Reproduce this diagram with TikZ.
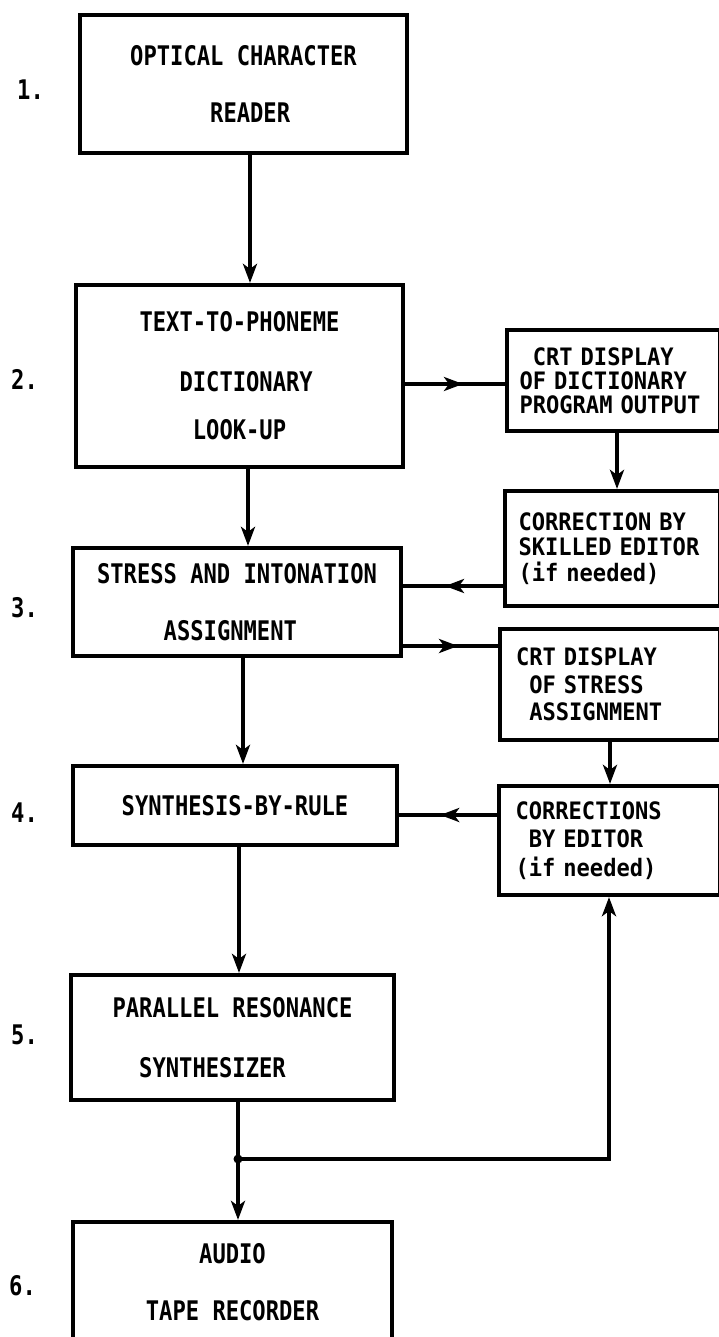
\documentclass[tikz,border=0pt]{standalone}
\usepackage{fontspec}
\newfontfamily\lblA[FakeStretch=0.82]{DejaVu Sans Mono}
\newfontfamily\lblB[FakeStretch=0.92]{DejaVu Sans Mono}
\newcommand\monosp{\spaceskip=\fontcharwd\font`X\relax}
\usetikzlibrary{arrows.meta,decorations.markings}
\begin{document}
\begin{tikzpicture}[x=1pt,y=-1pt,
  mainbox/.style={draw, line width=4.2pt, align=left, inner sep=0pt,
    font=\lblA\bfseries\fontsize{27}{28}\selectfont\monosp},
  sidebox/.style={draw, line width=4.2pt, align=left, text width=188pt, inner sep=0pt,
    font=\lblB\bfseries\fontsize{24}{#1}\selectfont\monosp},
  numlabel/.style={anchor=west, inner sep=0pt, font=\lblA\bfseries\fontsize{27}{28}\selectfont},
  conn/.style={line width=3.6pt},
  arr/.style={conn, -{Stealth[length=19pt,width=14pt,inset=5pt]}},
  midarr/.style={conn, postaction={decorate}, decoration={markings,
    mark=at position 0.58 with {\arrow{Stealth[length=19pt,width=14pt,inset=5pt]}}}},
  junction/.style={circle, fill, inner sep=0pt, minimum size=9pt}
]
\useasboundingbox (0,0) rectangle (719,1337);
\clip (0,0) rectangle (719,1337);

% main column
\node[mainbox, minimum width=327pt, minimum height=138pt] (b1) at (243.5,84)
  {OPTICAL CHARACTER\\[29pt]\hphantom{XXXXXX}READER};
\node[mainbox, minimum width=327pt, minimum height=182pt] (b2) at (239.5,376)
  {TEXT-TO-PHONEME\\[32pt]\hphantom{XXX}DICTIONARY\\[20pt]\hphantom{XXXX}LOOK-UP};
\node[mainbox, minimum width=328pt, minimum height=108pt] (b3) at (237,602)
  {STRESS AND INTONATION\\[29pt]\hphantom{XXXXX}ASSIGNMENT};
\node[mainbox, minimum width=324pt, minimum height=79pt] (b4) at (235,805.5)
  {SYNTHESIS-BY-RULE};
\node[mainbox, minimum width=323pt, minimum height=125pt] (b5) at (232.5,1037.5)
  {PARALLEL RESONANCE\\[32pt]\hphantom{XX}SYNTHESIZER};
\node[mainbox, minimum width=319pt, minimum height=121pt] (b6) at (232.5,1282.5)
  {\hphantom{XXXX}AUDIO\\[29pt]TAPE RECORDER};

% side column
\node[sidebox=24, minimum width=213pt, minimum height=101pt] (c1) at (613.5,380.5)
  {\hphantom{X}CRT DISPLAY\\OF DICTIONARY\\PROGRAM OUTPUT};
\node[sidebox=25.5, minimum width=215pt, minimum height=115pt] (r1) at (612.5,548.5)
  {CORRECTION BY\\SKILLED EDITOR\\(if needed)};
\node[sidebox=27.5, minimum width=220pt, minimum height=111pt] (c2) at (610,684.5)
  {CRT DISPLAY\\\hphantom{X}OF STRESS\\\hphantom{X}ASSIGNMENT};
\node[sidebox=28.5, minimum width=221pt, minimum height=109pt] (r2) at (609.5,840.5)
  {CORRECTIONS\\\hphantom{X}BY EDITOR\\(if needed)};

% step numbers
\node[numlabel] (n1) at (17,90) {1.};
\node[numlabel] (n2) at (11,379) {2.};
\node[numlabel] (n3) at (11,608) {3.};
\node[numlabel] (n4) at (11,813) {4.};
\node[numlabel] (n5) at (11,1035) {5.};
\node[numlabel] (n6) at (9,1286) {6.};

% guide coordinates
\coordinate (v1) at (250,0);
\coordinate (v2) at (248,0);
\coordinate (v3) at (243,0);
\coordinate (v4) at (239,0);
\coordinate (v5) at (609,0);
\coordinate (v6) at (617,0);
\coordinate (v7) at (610,0);
\coordinate (h1) at (0,384);
\coordinate (h2) at (0,586);
\coordinate (h3) at (0,646);
\coordinate (h4) at (0,815);
\node[junction] (j) at (238,1159) {};

% connectors
\draw[arr] (b1.south -| v1) -- (b2.north -| v1);
\draw[arr] (b2.south -| v2) -- (b3.north -| v2);
\draw[arr] (b3.south -| v3) -- (b4.north -| v3);
\draw[arr] (b4.south -| v4) -- (b5.north -| v4);
\draw[conn] (b5.south -| j) -- (j.center);
\draw[arr] (j.center) -- (b6.north -| j);
\draw[arr] (j.center) -- (j.center -| v5) -- (r2.south -| v5);

\draw[midarr] (b2.east |- h1) -- (c1.west |- h1);
\draw[arr] (c1.south -| v6) -- (r1.north -| v6);
\draw[midarr] (r1.west |- h2) -- (b3.east |- h2);
\draw[midarr] (b3.east |- h3) -- (c2.west |- h3);
\draw[arr] (c2.south -| v7) -- (r2.north -| v7);
\draw[midarr] (r2.west |- h4) -- (b4.east |- h4);
\end{tikzpicture}
\end{document}
